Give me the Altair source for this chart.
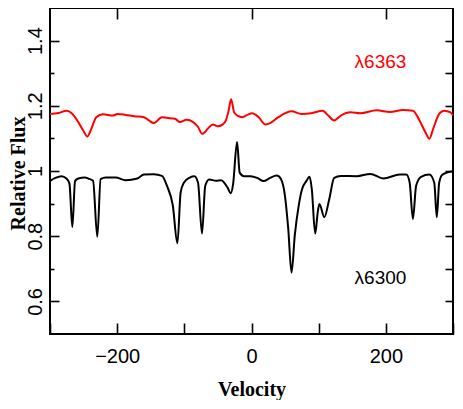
import altair as alt
import pandas as pd

# ---- λ6300 spectrum (black) ----
v_6300 = [-300, -292.0, -282.8, -275.5, -271.1, -266.7, -262.7, -257.9, -248.1, -243.2,
          -235.9, -229.6, -224.6, -216.8, -202.2, -187.5, -170.0, -160.1, -145.5, -133.3,
          -126.0, -117.2, -110.3, -105.5, -100.7, -91.9, -85.0, -79.6, -73.7, -68.9,
          -63.0, -52.7, -45.4, -35.6, -30.8, -27.4, -21.5, -17.6, -11.3, -1.5,
          8.4, 18.0, 27.8, 37.7, 44.0, 49.8, 54.7, 59.6, 64.5, 70.3,
          75.2, 81.6, 86.4, 89.8, 94.8, 98.6, 101.1, 108.4, 115.8, 123.1,
          132.9, 156.8, 176.9, 196.3, 220.8, 230.5, 235.5, 240.3, 245.1, 252.5,
          264.8, 272.1, 275.9, 279.4, 284.3, 300]
f_6300 = [0.970, 0.979, 0.984, 0.977, 0.962, 0.828, 0.969, 0.977, 0.980, 0.977,
          0.970, 0.798, 0.975, 0.980, 0.980, 0.972, 0.977, 0.989, 0.990, 0.985,
          0.955, 0.895, 0.778, 0.934, 0.964, 0.980, 0.984, 0.964, 0.808, 0.954,
          0.974, 0.970, 0.972, 0.949, 0.932, 0.960, 1.089, 0.995, 0.984, 0.984,
          0.979, 0.969, 0.979, 0.986, 0.975, 0.924, 0.823, 0.688, 0.804, 0.894,
          0.944, 0.969, 0.982, 0.944, 0.808, 0.873, 0.899, 0.858, 0.914, 0.979,
          0.985, 0.984, 0.991, 0.977, 0.989, 0.989, 0.964, 0.853, 0.955, 0.982,
          0.989, 0.964, 0.858, 0.964, 0.989, 0.999]

# ---- λ6363 spectrum (red) ----
v_6363 = [-300, -287.2, -275.0, -267.7, -257.9, -250.5, -244.2, -238.4, -231.1, -221.2,
          -206.6, -199.3, -187.1, -174.4, -160.1, -152.8, -145.5, -133.3, -126.0, -113.8,
          -106.5, -96.7, -86.9, -79.6, -73.3, -64.9, -57.6, -50.3, -42.9, -38.1,
          -34.1, -30.3, -25.9, -21.0, -13.6, -6.3, 1.0, 10.7, 20.5, 27.8,
          40.0, 59.6, 74.3, 88.9, 105.9, 114.3, 123.1, 132.9, 147.5, 162.2,
          186.5, 206.2, 225.6, 240.3, 250.1, 258.9, 264.8, 270.6, 279.4, 286.7,
          296.4, 300]
f_6363 = [1.175, 1.178, 1.185, 1.177, 1.150, 1.124, 1.106, 1.130, 1.165, 1.174,
          1.170, 1.175, 1.172, 1.168, 1.165, 1.155, 1.147, 1.165, 1.163, 1.160,
          1.150, 1.157, 1.150, 1.135, 1.114, 1.130, 1.143, 1.137, 1.143, 1.155,
          1.185, 1.220, 1.180, 1.170, 1.165, 1.172, 1.177, 1.165, 1.143, 1.147,
          1.165, 1.183, 1.175, 1.177, 1.185, 1.170, 1.155, 1.170, 1.180, 1.177,
          1.186, 1.181, 1.187, 1.185, 1.155, 1.119, 1.099, 1.130, 1.175, 1.185,
          1.180, 1.170]

series_names = ["λ6300", "λ6363"]
series_colors = ["#000000", "#ff0000"]

# ---- axes ----
x_label_values = [-200, 0, 200]
x_ticks_bottom = [-300, -200, -100, 0, 100, 200, 300]
x_ticks_top = [-200, 0, 200]
y_label_values = [0.6, 0.8, 1.0, 1.2, 1.4]
y_minor_values = [0.7, 0.9, 1.1, 1.3]
y_right_values = [0.6, 0.7, 0.8, 0.9, 1.0, 1.1, 1.2, 1.3, 1.4]

# ---- in-plot labels ----
label_text = ["λ6363", "λ6300"]
label_x = [192, 192]
label_y = [1.316, 0.653]
label_color = ["#ff0000", "#000000"]

W, H = 403, 326

df = pd.concat([
    pd.DataFrame({"v": v_6300, "f": f_6300, "s": series_names[0]}),
    pd.DataFrame({"v": v_6363, "f": f_6363, "s": series_names[1]}),
])
df_lab = pd.DataFrame({"v": label_x, "f": label_y, "t": label_text, "c": label_color})

xs = alt.Scale(domain=[-300, 300], nice=False, zero=False)
ys = alt.Scale(domain=[0.5, 1.5], nice=False, zero=False)

LF = "Liberation Sans"
TF = "Liberation Serif"

ax_x_lab = alt.Axis(values=x_label_values, format="d", ticks=False, tickSize=0, domain=False, grid=False,
                    labelFont=LF, labelFontSize=20, labelColor="black", labelPadding=28,
                    labelBaseline="alphabetic", labelFlush=False, labelOverlap=False,
                    title="Velocity", titleFont=TF, titleFontSize=20, titleFontWeight="bold",
                    titleColor="black", titleX=W / 2, titleY=61, titleAlign="center",
                    titleBaseline="alphabetic")
ax_y_lab = alt.Axis(values=y_label_values, format="~g", ticks=False, tickSize=0, domain=False, grid=False,
                    labelFont=LF, labelFontSize=20, labelColor="black", labelPadding=9,
                    labelAngle=270, labelAlign="center", labelBaseline="alphabetic",
                    labelFlush=False, labelOverlap=False,
                    title="Relative Flux", titleFont=TF, titleFontSize=20, titleFontWeight="bold",
                    titleColor="black", titleAngle=270, titleX=-26, titleY=165,
                    titleAlign="center", titleBaseline="alphabetic")


def tick_axis(orient, values, size, offset):
    return alt.Axis(orient=orient, offset=offset, values=values, labels=False, domain=False,
                    grid=False, ticks=True, tickSize=size, tickWidth=1.6, tickColor="black",
                    title=None)


lines = alt.Chart(df).mark_line(strokeWidth=2, interpolate="monotone").encode(
    x=alt.X("v:Q", scale=xs, axis=ax_x_lab),
    y=alt.Y("f:Q", scale=ys, axis=ax_y_lab),
    color=alt.Color("s:N", scale=alt.Scale(domain=series_names, range=series_colors), legend=None),
)

base = alt.Chart(df).mark_point(opacity=0)
l1 = base.encode(
    x=alt.X("v:Q", scale=xs, axis=tick_axis("top", x_ticks_bottom, 11, -H)),
    y=alt.Y("f:Q", scale=ys, axis=tick_axis("right", y_label_values, 9, -W)),
)
l2 = base.encode(
    x=alt.X("v:Q", scale=xs, axis=tick_axis("bottom", x_ticks_top, 11, -H)),
    y=alt.Y("f:Q", scale=ys, axis=tick_axis("right", y_minor_values, 4, -W)),
)
l3 = base.encode(
    x=alt.X("v:Q", scale=xs, axis=None),
    y=alt.Y("f:Q", scale=ys, axis=tick_axis("left", y_right_values, 8, -W)),
)

texts = alt.Chart(df_lab).mark_text(font=LF, fontSize=19, align="center", baseline="alphabetic").encode(
    x=alt.X("v:Q", scale=xs, axis=None),
    y=alt.Y("f:Q", scale=ys, axis=None),
    text="t:N",
    color=alt.Color("c:N", scale=None),
)

chart = alt.layer(lines, l1, l2, l3, texts).resolve_axis(
    x="independent", y="independent"
).properties(
    width=W, height=H,
    padding={"left": 42, "top": 0, "right": 2, "bottom": 66},
    autosize=alt.AutoSizeParams(type="none"),
    background="white",
).configure_view(stroke="black", strokeWidth=2)

chart.save("out.html", embed_options={"renderer": "svg", "actions": False})
